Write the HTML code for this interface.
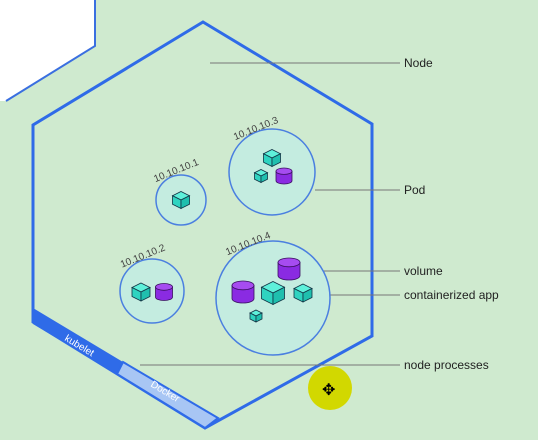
<!DOCTYPE html>
<html><head><meta charset="utf-8"><style>
html,body{margin:0;padding:0;background:#cfeacf;}
svg{display:block;font-family:"Liberation Sans",sans-serif;}
</style></head><body>
<svg id="c" width="538" height="440" viewBox="0 0 538 440">
<rect width="538" height="440" fill="#cfeacf"/>
<polygon points="0,0 95,0 95,46 6,101 0,101" fill="#ffffff"/>
<polyline points="95,0 95,46 6,101" fill="none" stroke="#3a6fe0" stroke-width="2"/>
<polygon points="203,22 372,124 372,336 205,428 33,322 33,125" fill="none" stroke="#2f6be8" stroke-width="3"/>
<polygon points="33,308 123,362 117,374 33,324" fill="#2f6be8"/>
<polygon points="123,362 218,418 205,428 117,374" fill="#a8c6f4" stroke="#2f6be8" stroke-width="2"/>
<text x="64" y="340" fill="#ffffff" font-size="10" transform="rotate(31 64 340)">kubelet</text>
<text x="150" y="386" fill="#ffffff" font-size="10" transform="rotate(31 150 386)">Docker</text>
<g id="lines" stroke="#777" stroke-width="1"></g>
<g id="pods"></g>
<circle cx="330" cy="388" r="22" fill="#d2d800"/>
<text x="322" y="395" font-size="16" fill="#000">✥</text>
</svg>
<script>
const NS="http://www.w3.org/2000/svg";
const svg=document.getElementById('c');
function mk(t,a,p){const e=document.createElementNS(NS,t);for(const k in a)e.setAttribute(k,a[k]);(p||svg).appendChild(e);return e;}
const podNames=["10.10.10.1","10.10.10.3","10.10.10.2","10.10.10.4"];
const podX=[181,272,152,273];
const podY=[200,172,291,298];
const podR=[25,43,32,57];
const podsG=document.getElementById('pods');
podNames.forEach((n,i)=>{
  const c=mk('circle',{cx:podX[i],cy:podY[i],r:podR[i],fill:"#c4ece0",stroke:"#4a7fe0","stroke-width":1.5},podsG);
  
  
  const a=-2.25, tx=podX[i]+Math.cos(a)*(podR[i]+3)-8, ty=podY[i]+Math.sin(a)*(podR[i]+3)+4;
  const t=mk('text',{x:tx,y:ty,"font-size":10,fill:"#444",transform:`rotate(-22 ${tx} ${ty})`},podsG);
  t.textContent=n;
  
  
});
function cube(x,y,s){
  const g=mk('g',{},podsG);
  
  
  const h=s/2;
  mk('polygon',{points:`${x},${y-h} ${x+h},${y-h/2} ${x},${y} ${x-h},${y-h/2}`,fill:"#5ef0da",stroke:"#134",'stroke-width':0.8},g);
  mk('polygon',{points:`${x-h},${y-h/2} ${x},${y} ${x},${y+h} ${x-h},${y+h/2}`,fill:"#2fd3c0",stroke:"#134",'stroke-width':0.8},g);
  mk('polygon',{points:`${x+h},${y-h/2} ${x},${y} ${x},${y+h} ${x+h},${y+h/2}`,fill:"#1fbfae",stroke:"#134",'stroke-width':0.8},g);
}
function cyl(x,y,w){
  const g=mk('g',{},podsG);
  
  
  const rx=w/2, ry=w/5, h=w*0.6;
  mk('path',{d:`M${x-rx},${y-h/2} L${x-rx},${y+h/2} A${rx},${ry} 0 0 0 ${x+rx},${y+h/2} L${x+rx},${y-h/2} Z`,fill:"#8a2be2",stroke:"#3a1060",'stroke-width':0.8},g);
  mk('ellipse',{cx:x,cy:y-h/2,rx:rx,ry:ry,fill:"#a64cf0",stroke:"#3a1060",'stroke-width':0.8},g);
}
cube(181,200,17);
cube(272,158,17);cube(261,176,13);cyl(284,176,16);
cube(141,292,18);cyl(164,292,17);
cyl(289,269,22);cyl(243,292,22);cube(273,293,23);cube(303,293,18);cube(256,316,12);
const labelText=["Node","Pod","volume","containerized app","node processes"];
const labelY=[63,190,271,295,365];
const lineStart=[210,315,300,275,140];
const lg=document.getElementById('lines');
labelText.forEach((s,i)=>{
  const l=mk('line',{x1:lineStart[i],y1:labelY[i],x2:400,y2:labelY[i]},lg);
  
  
  const t=mk('text',{x:404,y:labelY[i]+4,"font-size":12,fill:"#222"});
  t.textContent=s;
  
  
});
</script>
</body></html>
